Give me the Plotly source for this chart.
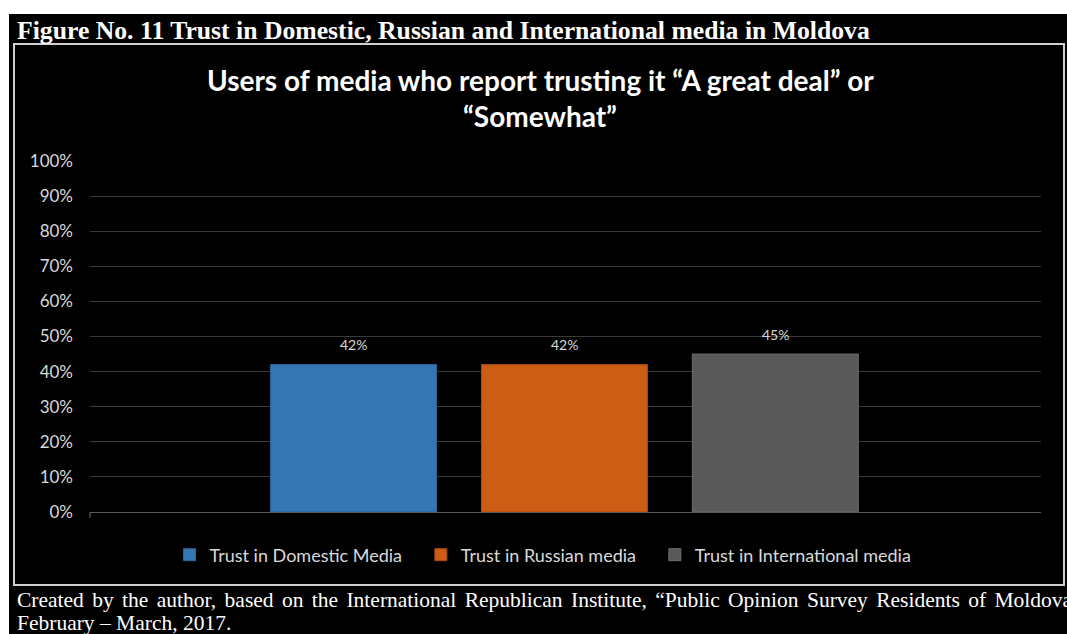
import plotly.graph_objects as go

series_names = ["Trust in Domestic Media", "Trust in Russian media", "Trust in International media"]
series_values = [42, 42, 45]
series_colors = ["#3577B4", "#CD5C14", "#595959"]
outline_colors = ["#2B6497", "#A94C12", "#6E6E6E"]
y_ticks = [0, 10, 20, 30, 40, 50, 60, 70, 80, 90, 100]
y_tick_labels = [f"{v}%" for v in y_ticks]

header_text = "Figure No. 11 Trust in Domestic, Russian and International media in Moldova"
title_line1 = "Users of media who report trusting it “A great deal” or"
title_line2 = "“Somewhat”"
footer_line1 = "Created by the author, based on the International Republican Institute, “Public Opinion Survey Residents of Moldova”"
footer_line2 = "February – March, 2017."

W, H = 1067, 634
L, R, T, B = 90, 1041, 161, 512  # plot area in px


def px_x(px):
    return (px - L) / (R - L)


def px_y(py):
    return (B - py) / (B - T)


fig = go.Figure()
n = len(series_names)
for i, (name, val, col, oc) in enumerate(zip(series_names, series_values, series_colors, outline_colors)):
    legend_label = name + ("\u00a0" * 3 if i < n - 1 else "")  # wider gap between legend entries
    fig.add_trace(go.Bar(
        x=[name], y=[val], name=legend_label,
        marker=dict(color=col, line=dict(color=oc, width=1)),
        hoverinfo="skip",
    ))

annotations = []
for name, val in zip(series_names, series_values):
    annotations.append(dict(
        x=name, y=val, xref="x", yref="y", text=f"{val}%", showarrow=False,
        yshift=20, yanchor="middle",
        font=dict(family="Lato", size=14, color="#D9D9D9"),
    ))

# justified look: widen each word gap a little
justified_line1 = footer_line1.replace(" ", " <span style='font-size:12px'>\u00a0</span>")

annotations += [
    dict(x=px_x(15), y=px_y(30), xref="paper", yref="paper", xanchor="left", yanchor="middle",
         text=f"<b>{header_text}</b>", showarrow=False,
         font=dict(family="Liberation Serif", size=25.7, color="white")),
    dict(x=px_x(540), y=px_y(80), xref="paper", yref="paper", xanchor="center", yanchor="middle",
         text=f"<b>{title_line1}</b>", showarrow=False,
         font=dict(family="Lato", size=28, color="white")),
    dict(x=px_x(540), y=px_y(116), xref="paper", yref="paper", xanchor="center", yanchor="middle",
         text=f"<b>{title_line2}</b>", showarrow=False,
         font=dict(family="Lato", size=28, color="white")),
    dict(x=px_x(15), y=px_y(600), xref="paper", yref="paper", xanchor="left", yanchor="middle",
         text=justified_line1, showarrow=False,
         font=dict(family="Liberation Serif", size=21.5, color="white")),
    dict(x=px_x(15), y=px_y(623), xref="paper", yref="paper", xanchor="left", yanchor="middle",
         text=footer_line2, showarrow=False,
         font=dict(family="Liberation Serif", size=21.5, color="white")),
]

shapes = [
    dict(type="rect", xref="paper", yref="paper", x0=px_x(9), x1=px_x(1070), y0=px_y(640), y1=px_y(14),
         fillcolor="black", line=dict(width=0), layer="below"),
    dict(type="rect", xref="paper", yref="paper", x0=px_x(14), x1=px_x(1064), y0=px_y(585), y1=px_y(44),
         fillcolor="rgba(0,0,0,0)", line=dict(color="#D0D0D0", width=2), layer="below"),
    dict(type="line", xref="paper", yref="paper", x0=0, x1=0, y0=0, y1=px_y(518),
         line=dict(color="#6A6A6A", width=1)),
]

fig.update_layout(
    width=W, height=H,
    margin=dict(l=L, r=W - R, t=T, b=H - B, pad=0),
    paper_bgcolor="white", plot_bgcolor="black",
    barmode="group", bargap=0.213,
    showlegend=True,
    legend=dict(orientation="h", x=px_x(543), xanchor="center", y=px_y(555), yanchor="middle",
                font=dict(family="Lato", size=18, color="#D9D9D9"), bgcolor="rgba(0,0,0,0)",
                itemclick=False),
    annotations=annotations,
    shapes=shapes,
    xaxis=dict(type="category", range=[-1.25, 3.26], showticklabels=False, showgrid=False,
               zeroline=False, showline=False, fixedrange=True),
    yaxis=dict(range=[0, 100], tickvals=y_ticks, ticktext=y_tick_labels, showgrid=True,
               gridcolor="#3A3A3A", gridwidth=1, zeroline=True, zerolinecolor="#595959",
               zerolinewidth=1, tickfont=dict(family="Lato", size=17, color="#D9D9D9"),
               ticklabelstandoff=16, showline=False, fixedrange=True),
    font=dict(family="Lato", color="#D9D9D9"),
)

fig.write_html("out.html", config={"displayModeBar": False},
               post_script="document.body.style.margin='0px';")
